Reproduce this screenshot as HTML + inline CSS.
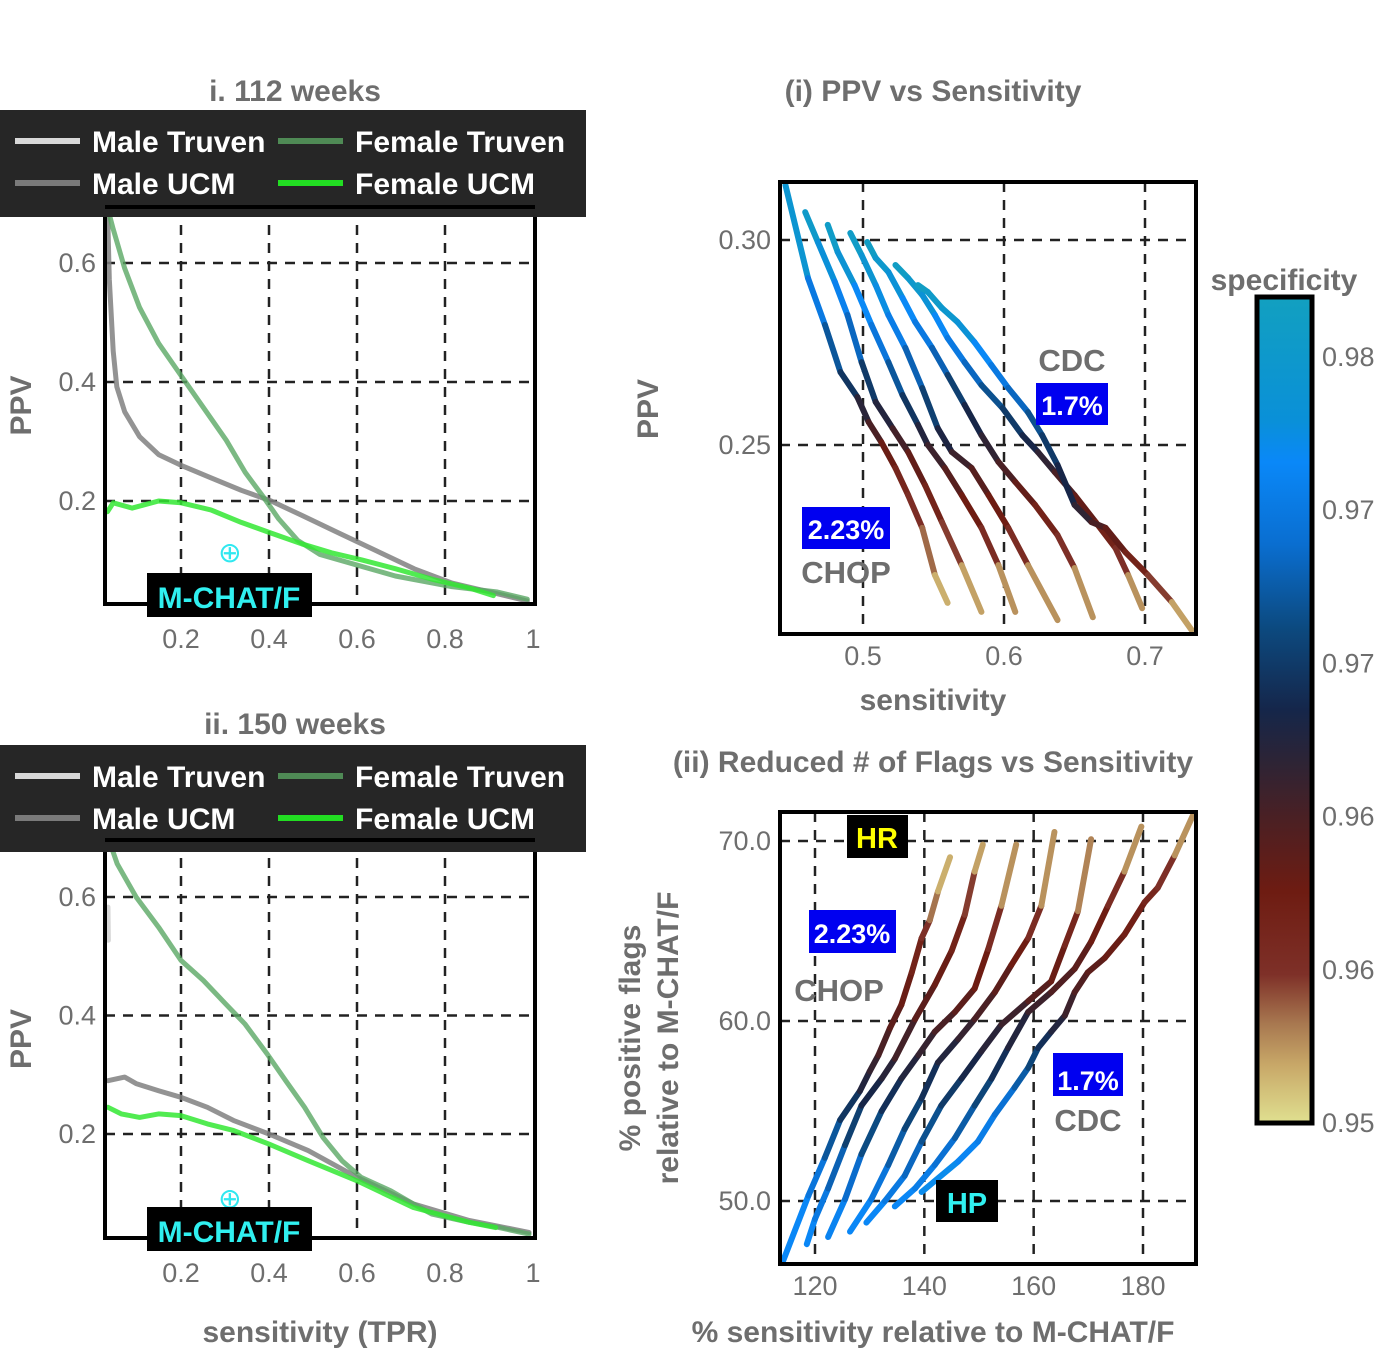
<!DOCTYPE html>
<html><head><meta charset="utf-8"><style>
html,body{margin:0;padding:0;background:#fff;}
svg{display:block;font-family:"Liberation Sans",sans-serif;}
.tk{font-size:27px;fill:#6e6e6e;}
.ttl{font-size:30px;font-weight:bold;fill:#6e6e6e;}
.lg{font-size:30px;font-weight:bold;fill:#fff;}
</style></head><body>
<svg id="fig" width="1380" height="1350" viewBox="0 0 1380 1350" xmlns="http://www.w3.org/2000/svg">
<defs>
<linearGradient id="cmap" x1="0" y1="0" x2="0" y2="1">
<stop offset="0" stop-color="#12a0c0"/><stop offset="0.15" stop-color="#0a90d8"/><stop offset="0.2" stop-color="#0a88f8"/><stop offset="0.3" stop-color="#0a6ed0"/><stop offset="0.4" stop-color="#0c4a80"/><stop offset="0.5" stop-color="#15264a"/><stop offset="0.56" stop-color="#2c2436"/><stop offset="0.63" stop-color="#4a2024"/><stop offset="0.72" stop-color="#6e1c12"/><stop offset="0.82" stop-color="#7e3028"/><stop offset="0.88" stop-color="#a87850"/><stop offset="0.93" stop-color="#c8a868"/><stop offset="1" stop-color="#e0e090"/>
</linearGradient>
</defs>
<g id="root"></g>
</svg>
<script>
// ---------- data: left panels (i. 112 weeks) ----------
const w112_femaleTruven_x=[0.033,0.046,0.072,0.106,0.149,0.200,0.251,0.303,0.346,0.388,0.422,0.465,0.516,0.602,0.687,0.816,0.919,0.987];
const w112_femaleTruven_y=[0.693,0.657,0.591,0.525,0.465,0.411,0.357,0.302,0.248,0.206,0.170,0.134,0.110,0.092,0.074,0.056,0.047,0.035];
const w112_maleUCM_x=[0.033,0.037,0.046,0.054,0.072,0.106,0.149,0.200,0.268,0.337,0.405,0.474,0.559,0.645,0.730,0.816,0.902,0.987];
const w112_maleUCM_y=[0.693,0.573,0.452,0.392,0.350,0.308,0.278,0.260,0.239,0.218,0.200,0.176,0.146,0.116,0.086,0.062,0.047,0.032];
const w112_femaleUCM_x=[0.033,0.046,0.089,0.149,0.200,0.268,0.337,0.405,0.474,0.542,0.611,0.688,0.773,0.859,0.910];
const w112_femaleUCM_y=[0.182,0.197,0.188,0.200,0.197,0.185,0.164,0.146,0.128,0.113,0.101,0.086,0.068,0.053,0.041];
const w112_mchat=[0.311,0.113];
// ---------- data: left panels (ii. 150 weeks) ----------
const w150_femaleTruven_x=[0.034,0.055,0.098,0.149,0.200,0.251,0.302,0.345,0.396,0.438,0.481,0.523,0.566,0.609,0.677,0.728,0.770,0.855,0.923,0.991];
const w150_femaleTruven_y=[0.701,0.656,0.600,0.549,0.493,0.459,0.419,0.386,0.335,0.290,0.245,0.194,0.155,0.127,0.104,0.082,0.065,0.051,0.042,0.031];
const w150_maleUCM_x=[0.034,0.072,0.098,0.149,0.200,0.260,0.319,0.400,0.489,0.600,0.728,0.855,0.991];
const w150_maleUCM_y=[0.290,0.296,0.285,0.273,0.262,0.245,0.223,0.200,0.172,0.127,0.082,0.054,0.034];
const w150_femaleUCM_x=[0.034,0.064,0.106,0.149,0.200,0.260,0.319,0.400,0.489,0.600,0.728,0.855,0.915];
const w150_femaleUCM_y=[0.245,0.234,0.228,0.234,0.231,0.217,0.206,0.183,0.155,0.121,0.076,0.051,0.042];
const w150_maleTruven_x=[0.034,0.035];
const w150_maleTruven_y=[0.583,0.527];
const w150_mchat=[0.311,0.090];
const leftXTicks=[0.2,0.4,0.6,0.8,1];
const leftXTickLabels=["0.2","0.4","0.6","0.8","1"];
const leftYTicks=[0.2,0.4,0.6];
const leftYTickLabels=["0.2","0.4","0.6"];
// ---------- data: (i) PPV vs Sensitivity ----------
const ppvSens_x=[
[0.445,0.461,0.473,0.484,0.496,0.504,0.513,0.523,0.532,0.542,0.551,0.560],
[0.459,0.468,0.480,0.489,0.499,0.509,0.521,0.532,0.544,0.556,0.570,0.584],
[0.475,0.482,0.494,0.506,0.518,0.528,0.539,0.546,0.558,0.570,0.584,0.596,0.608],
[0.491,0.499,0.509,0.518,0.530,0.542,0.553,0.563,0.577,0.589,0.603,0.617,0.638],
[0.503,0.509,0.518,0.528,0.537,0.549,0.560,0.572,0.584,0.596,0.608,0.622,0.638,0.650,0.663],
[0.523,0.532,0.542,0.551,0.560,0.572,0.584,0.599,0.613,0.624,0.636,0.650,0.665,0.679,0.688,0.698],
[0.539,0.546,0.556,0.567,0.579,0.591,0.603,0.617,0.627,0.638,0.650,0.662,0.672,0.686,0.702,0.719,0.733]];
const ppvSens_y=[
[0.3134,0.2907,0.2793,0.2678,0.2617,0.2556,0.2507,0.2444,0.2378,0.2298,0.2183,0.2115],
[0.3068,0.2995,0.2898,0.2817,0.2702,0.2605,0.2541,0.2483,0.2402,0.2312,0.2207,0.2093],
[0.3037,0.2971,0.2890,0.2793,0.2702,0.2622,0.2549,0.2500,0.2444,0.2378,0.2298,0.2207,0.2093],
[0.3017,0.2963,0.2890,0.2817,0.2737,0.2639,0.2541,0.2483,0.2444,0.2378,0.2298,0.2207,0.2073],
[0.2995,0.2956,0.2922,0.2859,0.2800,0.2737,0.2671,0.2598,0.2524,0.2459,0.2410,0.2354,0.2280,0.2200,0.2080],
[0.2939,0.2907,0.2866,0.2817,0.2761,0.2702,0.2646,0.2590,0.2524,0.2483,0.2434,0.2378,0.2312,0.2249,0.2183,0.2102],
[0.2890,0.2873,0.2834,0.2800,0.2751,0.2695,0.2639,0.2580,0.2524,0.2451,0.2354,0.2312,0.2298,0.2239,0.2183,0.2117,0.2049]];
const ppvSens_spec=[
[0.982,0.976,0.972,0.969,0.966,0.963,0.961,0.958,0.957,0.9555,0.953,0.951],
[0.982,0.979,0.976,0.974,0.970,0.966,0.964,0.961,0.959,0.957,0.954,0.951],
[0.982,0.980,0.977,0.975,0.972,0.969,0.966,0.964,0.962,0.960,0.958,0.955,0.951],
[0.982,0.980,0.978,0.976,0.973,0.970,0.967,0.964,0.962,0.960,0.958,0.955,0.951],
[0.982,0.981,0.979,0.977,0.975,0.973,0.970,0.967,0.965,0.963,0.961,0.959,0.957,0.955,0.951],
[0.982,0.981,0.979,0.977,0.975,0.973,0.971,0.969,0.967,0.965,0.963,0.961,0.959,0.957,0.955,0.951],
[0.982,0.981,0.980,0.979,0.977,0.975,0.973,0.971,0.969,0.967,0.965,0.963,0.961,0.959,0.957,0.954,0.951]];
const ppvXTicks=[0.5,0.6,0.7];
const ppvXTickLabels=["0.5","0.6","0.7"];
const ppvYTicks=[0.25,0.30];
const ppvYTickLabels=["0.25","0.30"];
// ---------- data: (ii) Reduced flags vs sensitivity ----------
const flags_x=[
[114.2,118.8,121.8,124.6,128.2,130.0,131.6,133.7,135.8,137.7,139.5,141.0,142.5,144.7],
[118.5,120.0,122.4,125.5,128.5,132.2,134.6,138.3,141.9,145.0,147.4,149.2,150.7],
[122.4,125.5,128.5,132.2,135.8,138.9,141.9,145.6,149.2,151.7,154.1,156.8],
[126.4,130.3,133.4,136.4,139.5,142.5,146.2,149.2,152.9,155.9,159.0,161.4,163.8],
[129.4,132.8,136.4,139.5,143.1,146.8,150.4,154.1,159.0,163.2,165.7,168.1,170.5],
[134.6,138.3,141.9,145.6,149.2,152.3,155.3,159.0,163.2,167.5,170.5,173.6,176.6,179.7],
[139.5,146.2,149.8,152.9,156.5,159.0,160.8,163.2,165.7,167.5,169.9,173.0,176.6,180.3,182.7,185.8,189.1]];
const flags_y=[
[46.7,50.3,52.4,54.5,56.1,57.2,58.1,59.6,60.9,62.7,64.6,65.6,67.2,69.1],
[47.6,49.0,50.7,53.1,55.3,56.8,57.9,60.1,62.0,63.9,65.9,68.3,69.8],
[48.0,50.1,52.6,55.0,56.8,58.1,59.4,60.5,61.8,64.0,66.4,69.8],
[48.3,50.1,52.0,54.0,55.7,57.7,59.0,60.1,61.6,63.1,64.6,66.4,70.5],
[48.8,50.0,51.4,53.3,55.3,56.8,58.3,59.8,61.1,62.2,64.2,66.1,70.1],
[49.7,50.7,52.0,53.5,55.3,56.8,58.5,60.5,61.6,62.9,64.4,66.4,68.3,70.8],
[50.5,52.2,53.3,54.8,56.3,57.4,58.5,59.4,60.3,61.6,62.7,63.5,64.8,66.6,67.4,69.2,71.4]];
const flags_spec=[
[0.9765,0.975,0.972,0.969,0.966,0.964,0.963,0.961,0.960,0.959,0.957,0.955,0.953,0.951],
[0.9765,0.975,0.973,0.970,0.967,0.965,0.964,0.961,0.960,0.959,0.957,0.954,0.951],
[0.9765,0.974,0.971,0.968,0.966,0.964,0.963,0.961,0.960,0.958,0.955,0.951],
[0.9765,0.975,0.972,0.970,0.968,0.966,0.964,0.963,0.961,0.960,0.958,0.955,0.951],
[0.9765,0.975,0.973,0.971,0.969,0.967,0.965,0.964,0.962,0.960,0.959,0.956,0.951],
[0.9765,0.975,0.974,0.972,0.970,0.968,0.966,0.964,0.962,0.961,0.960,0.958,0.955,0.951],
[0.977,0.976,0.975,0.974,0.972,0.970,0.968,0.966,0.964,0.962,0.961,0.960,0.959,0.958,0.957,0.955,0.951]];
const flagsXTicks=[120,140,160,180];
const flagsXTickLabels=["120","140","160","180"];
const flagsYTicks=[50,60,70];
const flagsYTickLabels=["50.0","60.0","70.0"];
// ---------- colorbar ----------
const cbarTickLabels=["0.98","0.97","0.97","0.96","0.96","0.95"];
const cbarTickValues=[0.98,0.975,0.97,0.965,0.96,0.95];

const NS="http://www.w3.org/2000/svg";
const root=document.getElementById('root');
function mk(tag,attrs,parent){const e=document.createElementNS(NS,tag);for(const k in attrs)e.setAttribute(k,attrs[k]);(parent||root).appendChild(e);return e;}
function lin(d0,d1,p0,p1){return v=>p0+(v-d0)/(d1-d0)*(p1-p0);}
const cstops=[[0,[18,160,192]],[0.15,[10,144,216]],[0.2,[10,136,248]],[0.3,[10,110,208]],[0.4,[12,74,128]],[0.5,[21,38,74]],[0.56,[44,36,54]],[0.63,[74,32,36]],[0.72,[110,28,18]],[0.82,[126,48,40]],[0.88,[168,120,80]],[0.93,[200,168,104]],[1,[224,224,144]]];
function cmap(s){let f=(0.98235-s)/0.03235;f=Math.max(0,Math.min(1,f));for(let i=1;i<cstops.length;i++){if(f<=cstops[i][0]){const a=cstops[i-1],b=cstops[i];const t=(f-a[0])/(b[0]-a[0]);const c=a[1].map((v,j)=>Math.round(v+(b[1][j]-v)*t));return `rgb(${c[0]},${c[1]},${c[2]})`;}}return 'rgb(224,224,144)';}
function text(x,y,str,cls,anchor,parent){const t=mk('text',{x:x,y:y,class:cls,'text-anchor':anchor||'middle'},parent);t.textContent=str;return t;}
function path(xs,ys,sx,sy,style,parent){let d='';for(let i=0;i<xs.length;i++)d+=(i?'L':'M')+sx(xs[i]).toFixed(1)+','+sy(ys[i]).toFixed(1);return mk('path',Object.assign({d:d,fill:'none'},style),parent);}

// ===== Left panel builder =====
function leftPanel(cfg){
  const g=mk('g',{});
  
  
  const sx=lin(0.2,1,181,533), sy=lin(0.2,0.6,cfg.y02,cfg.y06);
  const t=text(295,cfg.titleY,cfg.title,'ttl','middle',g);
  
  
  leftXTicks.forEach((v,i)=>{if(v<1){const l=mk('line',{x1:sx(v),x2:sx(v),y1:cfg.top,y2:cfg.bot,stroke:'#222','stroke-width':2.5,'stroke-dasharray':'10,8'},g);
  
  }
  const tl=text(sx(v),cfg.bot+44,leftXTickLabels[i],'tk','middle',g);
  
  });
  leftYTicks.forEach((v,i)=>{const l=mk('line',{x1:105,x2:535,y1:sy(v),y2:sy(v),stroke:'#222','stroke-width':2.5,'stroke-dasharray':'10,8'},g);
  
  
  const tl=text(96,sy(v)+9,leftYTickLabels[i],'tk','end',g);
  
  });
  const yl=text(0,0,'PPV','ttl','middle',g);yl.setAttribute('transform',`translate(31,${(cfg.top+cfg.bot)/2}) rotate(-90)`);
  
  
  cfg.series.forEach(s=>{const p=path(s.x,s.y,sx,sy,{stroke:s.c,'stroke-width':5,'stroke-linejoin':'round','stroke-linecap':'round',opacity:s.o},g);
  
  });
  const mkr=text(sx(cfg.mchat[0]),sy(cfg.mchat[1])+9,'⊕','tk','middle',g);mkr.setAttribute('style','fill:#30e8f0;font-size:28px');
  
  
  const box=mk('rect',{x:105,y:cfg.top,width:430,height:cfg.bot-cfg.top,fill:'none',stroke:'#000','stroke-width':4},g);
  
  
  const lg=mk('g',{},g);
  
  
  mk('rect',{x:0,y:cfg.legY,width:586,height:107,fill:'#262626'},lg);
  const ents=[['Male Truven','#d8d8d8',15,92,31],['Female Truven','#4f8a55',278,355,31],['Male UCM','#7a7a7a',15,92,73],['Female UCM','#22dd22',278,355,73]];
  ents.forEach(e=>{const eg=mk('g',{},lg);
  
  
  mk('line',{x1:e[2],x2:e[2]+65,y1:cfg.legY+e[4],y2:cfg.legY+e[4],stroke:e[1],'stroke-width':6},eg);
  text(e[3],cfg.legY+e[4]+11,e[0],'lg','start',eg);});
  mk('line',{x1:105,x2:535,y1:cfg.top,y2:cfg.top,stroke:'#000','stroke-width':4},g);
  const mb=mk('g',{},g);
  
  
  mk('rect',{x:147,y:cfg.bot-31,width:165,height:44,fill:'#000'},mb);
  const mt=text(229,cfg.bot+4,'M-CHAT/F','lg','middle',mb);mt.setAttribute('style','fill:#30f0f0');
}
leftPanel({name:'panel-112-weeks',title:'i.  112 weeks',titleY:101,top:207,bot:604,y02:501,y06:263,legY:110,mchat:w112_mchat,
 series:[{x:w112_maleUCM_x,y:w112_maleUCM_y,c:'#808080',o:0.85,n:'male-ucm-line'},{x:w112_femaleTruven_x,y:w112_femaleTruven_y,c:'#5aa864',o:0.8,n:'female-truven-line'},{x:w112_femaleUCM_x,y:w112_femaleUCM_y,c:'#33e833',o:0.85,n:'female-ucm-line'}]});
leftPanel({name:'panel-150-weeks',title:'ii.  150 weeks',titleY:734,top:840,bot:1238,y02:1134,y06:897,legY:745,mchat:w150_mchat,
 series:[{x:w150_maleTruven_x,y:w150_maleTruven_y,c:'#d8d8d8',o:1,n:'male-truven-line'},{x:w150_maleUCM_x,y:w150_maleUCM_y,c:'#808080',o:0.85,n:'male-ucm-line'},{x:w150_femaleTruven_x,y:w150_femaleTruven_y,c:'#5aa864',o:0.8,n:'female-truven-line'},{x:w150_femaleUCM_x,y:w150_femaleUCM_y,c:'#33e833',o:0.85,n:'female-ucm-line'}]});
const xl=text(320,1342,'sensitivity (TPR)','ttl');



// ===== right panels =====
function rightPanel(cfg){
  const g=mk('g',{});
  
  
  const sx=cfg.sx, sy=cfg.sy;
  const t=text(933,cfg.titleY,cfg.title,'ttl','middle',g);
  
  
  cfg.xt.forEach((v,i)=>{const l=mk('line',{x1:sx(v),x2:sx(v),y1:cfg.top,y2:cfg.bot,stroke:'#222','stroke-width':2.5,'stroke-dasharray':'10,8'},g);
  
  
  const tl=text(sx(v),cfg.bot+31,cfg.xtl[i],'tk','middle',g);
  
  });
  cfg.yt.forEach((v,i)=>{const l=mk('line',{x1:780,x2:1196,y1:sy(v),y2:sy(v),stroke:'#222','stroke-width':2.5,'stroke-dasharray':'10,8'},g);
  
  
  const tl=text(771,sy(v)+9,cfg.ytl[i],'tk','end',g);
  
  });
  const lines=mk('g',{},g);
  
  
  cfg.X.forEach((xs,k)=>{const cg=mk('g',{},lines);
    
    
    const ys=cfg.Y[k], ss=cfg.S[k];
    for(let i=0;i<xs.length-1;i++){mk('line',{x1:sx(xs[i]),y1:sy(ys[i]),x2:sx(xs[i+1]),y2:sy(ys[i+1]),stroke:cmap((ss[i]+ss[i+1])/2),'stroke-width':6,'stroke-linecap':'round'},cg);}
  });
  const box=mk('rect',{x:780,y:cfg.top,width:416,height:cfg.bot-cfg.top,fill:'none',stroke:'#000','stroke-width':4},g);
  
  
  cfg.ann.forEach(a=>{const ag=mk('g',{},g);
    
    
    if(a.bg)mk('rect',{x:a.x,y:a.y,width:a.w,height:a.h,fill:a.bg},ag);
    const tt=text(a.tx,a.ty,a.s,'lg',a.anc||'middle',ag);tt.setAttribute('style','fill:'+a.c+';font-size:'+(a.fs||28)+'px');});
  return g;
}
rightPanel({name:'ppv-vs-sensitivity-panel',title:'(i) PPV vs Sensitivity',titleY:101,top:182,bot:634,
  sx:lin(0.5,0.7,863,1145),sy:lin(0.25,0.30,445,240),xt:ppvXTicks,xtl:ppvXTickLabels,yt:ppvYTicks,ytl:ppvYTickLabels,
  X:ppvSens_x,Y:ppvSens_y,S:ppvSens_spec,
  ann:[{n:'cdc-label',s:'CDC',tx:1072,ty:371,c:'#6e6e6e',fs:31},{n:'cdc-rate-label',s:'1.7%',bg:'#0000f0',x:1036,y:383,w:72,h:42,tx:1072,ty:415,c:'#fff',fs:27},
       {n:'chop-rate-label',s:'2.23%',bg:'#0000f0',x:802,y:507,w:88,h:42,tx:846,ty:539,c:'#fff',fs:27},{n:'chop-label',s:'CHOP',tx:846,ty:583,c:'#6e6e6e',fs:31}]});
rightPanel({name:'flags-vs-sensitivity-panel',title:'(ii) Reduced # of Flags vs Sensitivity',titleY:772,top:812,bot:1264,
  sx:lin(120,180,815,1143),sy:lin(50,70,1201,841),xt:flagsXTicks,xtl:flagsXTickLabels,yt:flagsYTicks,ytl:flagsYTickLabels,
  X:flags_x,Y:flags_y,S:flags_spec,
  ann:[{n:'hr-label',s:'HR',bg:'#000',x:847,y:815,w:61,h:43,tx:877,ty:848,c:'#ffff00',fs:29},{n:'chop-rate-label',s:'2.23%',bg:'#0000f0',x:809,y:910,w:87,h:43,tx:852,ty:943,c:'#fff',fs:27},
       {n:'chop-label',s:'CHOP',tx:839,ty:1001,c:'#6e6e6e',fs:31},{n:'cdc-rate-label',s:'1.7%',bg:'#0000f0',x:1053,y:1053,w:70,h:43,tx:1088,ty:1090,c:'#fff',fs:27},
       {n:'cdc-label',s:'CDC',tx:1088,ty:1131,c:'#6e6e6e',fs:31},{n:'hp-label',s:'HP',bg:'#000',x:936,y:1180,w:62,h:42,tx:967,ty:1213,c:'#30f0f0',fs:29}]});
let t1=text(0,0,'PPV','ttl');t1.setAttribute('transform','translate(658,409) rotate(-90)');


let t2=text(933,710,'sensitivity','ttl');


let t3=text(0,0,'% positive flags','ttl');t3.setAttribute('transform','translate(640,1038) rotate(-90)');


let t4=text(0,0,'relative to M-CHAT/F','ttl');t4.setAttribute('transform','translate(678,1038) rotate(-90)');


let t5=text(933,1342,'% sensitivity relative to M-CHAT/F','ttl');



// colorbar
const cb=mk('g',{});


mk('rect',{x:1257,y:297,width:55,height:826,fill:'url(#cmap)',stroke:'#000','stroke-width':5},cb);
const ct=text(1284,290,'specificity','ttl','middle',cb);ct.setAttribute('style','font-size:30px');


cbarTickValues.forEach((v,i)=>{const y=i===5?1123:357+i*153.2;const tl=text(1322,y+9,cbarTickLabels[i],'tk','start',cb);

});
</script>
</body></html>
